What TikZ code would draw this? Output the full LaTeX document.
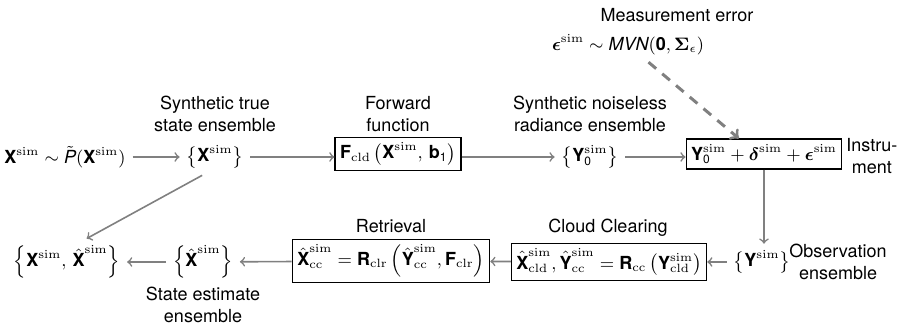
\documentclass[tikz,border=0pt]{standalone}
\usepackage{amsmath}
\usepackage{bm}
\usepackage[no-math]{fontspec}
\setmainfont{TeX Gyre Heros}
\usetikzlibrary{calc}
\newcommand{\bsf}[1]{\text{\bfseries #1}}
\newcommand{\sm}{\mathrm{sim}}
\begin{document}
\begin{tikzpicture}[x=0.5pt,y=-0.5pt,
  font=\fontsize{9}{11}\selectfont,
  conn/.style={->, draw=gray, line width=0.8pt},
  dconn/.style={->, draw=gray, line width=1.5pt, dash pattern=on 5pt off 4pt},
  box/.style={draw, line width=0.6pt, inner sep=2.5pt},
  lbl/.style={align=center, inner sep=0pt}]
\useasboundingbox (0,0) rectangle (900,324);

% top row
\node (n1) at (65,157) {$\bsf{X}^{\sm} \sim \tilde{\textit{P}}(\bsf{X}^{\sm})$};
\node (n2) at (215,157) {$\bigl\{\bsf{X}^{\sm}\bigr\}$};
\node[lbl] (l2) at (215,114) {Synthetic true\\state ensemble};
\node[box] (n3) at (398,154) {$\bsf{F}_{\mathrm{cld}}\,\bigl(\bsf{X}^{\sm},\, \bsf{b}_{\text{1}}\bigr)$};
\node[lbl] (l3) at (398,114) {Forward\\function};
\node (n4) at (590,157) {$\bigl\{\bsf{Y}_{\text{0}}^{\sm}\bigr\}$};
\node[lbl] (l4) at (590,114) {Synthetic noiseless\\radiance ensemble};
\node[box] (n5) at (764,154) {$\bsf{Y}_{\text{0}}^{\sm} + \bm{\delta}^{\sm} + \bm{\epsilon}^{\sm}$};
\node[lbl, anchor=west] (l5) at (846,156) {Instru-\\ment};

% measurement error
\node[lbl] (meas) at (677,15) {Measurement error};
\node (eps) at (628,45) {$\bm{\epsilon}^{\sm} \sim \textit{MVN}(\textbf{0}, \bm{\Sigma}_{\epsilon})$};

% bottom row
\node (n6) at (762,262) {$\bigl\{\bsf{Y}^{\sm}\bigr\}$};
\node[lbl, anchor=west] (l6) at (789,262) {Observation\\ensemble};
\node[box] (n7) at (609,262) {$\hat{\bsf{X}}_{\mathrm{cld}}^{\sm}, \hat{\bsf{Y}}_{\mathrm{cc}}^{\sm} = \bsf{R}_{\mathrm{cc}}\,\bigl(\bsf{Y}_{\mathrm{cld}}^{\sm}\bigr)$};
\node[lbl] (l7) at (608,228) {Cloud Clearing};
\node[box] (n8) at (391,261) {$\hat{\bsf{X}}_{\mathrm{cc}}^{\sm} = \bsf{R}_{\mathrm{clr}}\,\Bigl(\hat{\bsf{Y}}_{\mathrm{cc}}^{\sm}, \bsf{F}_{\mathrm{clr}}\Bigr)$};
\node[lbl] (l8) at (391,226) {Retrieval};
\node (n9) at (203,262) {$\Bigl\{\hat{\bsf{X}}^{\sm}\Bigr\}$};
\node[lbl] (l9) at (203,305) {State estimate\\ensemble};
\node (n10) at (67,262) {$\Bigl\{\bsf{X}^{\sm},\, \hat{\bsf{X}}^{\sm}\Bigr\}$};

% connectors
\draw[conn] (n1) -- (n2);
\draw[conn] (n2) -- (n3.west |- n2);
\draw[conn] (n3.east |- n4) -- (n4);
\draw[conn] (n4) -- (n5.west |- n4);
\draw[dconn] (eps.-40) -- ($(n5.north west)!0.34!(n5.north east)$);
\draw[conn] (n5.south) -- (n5.south |- n6.north);
\draw[conn] (n6) -- (n7);
\draw[conn] (n7) -- (n8);
\draw[conn] (n8) -- (n9);
\draw[conn] (n9) -- (n10);
\draw[conn] (n2.-125) -- (n10.50);
\end{tikzpicture}
\end{document}
